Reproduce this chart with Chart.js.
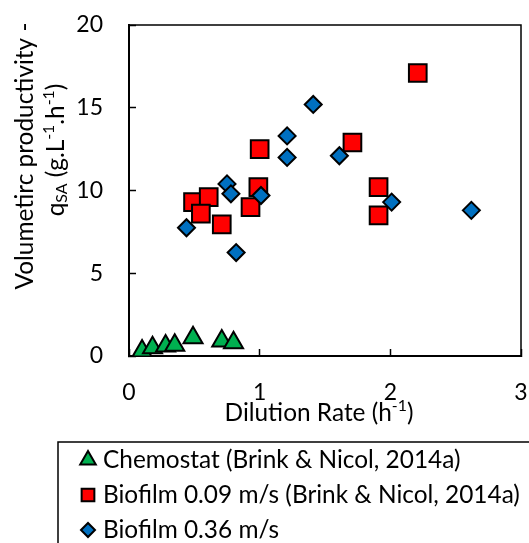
<!DOCTYPE html>
<html>
<head>
<meta charset="utf-8">
<script src="https://cdn.jsdelivr.net/npm/chart.js@4.4.1/dist/chart.umd.min.js"></script>
<style>
  html, body { margin: 0; padding: 0; background: #fff; }
  #wrap { width: 529px; height: 543px; position: relative; }
</style>
</head>
<body>
<div id="wrap"><canvas id="chart"></canvas></div>
<script>
// Data
const seriesNames = [
  'Chemostat (Brink & Nicol, 2014a)',
  'Biofilm 0.09 m/s (Brink & Nicol, 2014a)',
  'Biofilm 0.36 m/s'
];
const chemostatX = [0.10, 0.18, 0.28, 0.35, 0.49, 0.71, 0.80];
const chemostatY = [0.30, 0.50, 0.60, 0.65, 1.10, 0.90, 0.80];
const biofilm09X = [0.49, 0.61, 0.55, 0.71, 1.00, 0.99, 0.93, 1.71, 1.91, 1.91, 2.21];
const biofilm09Y = [9.3, 9.6, 8.6, 7.95, 12.5, 10.2, 9.0, 12.9, 10.2, 8.5, 17.1];
const biofilm36X = [0.44, 0.75, 0.78, 0.82, 1.01, 1.21, 1.21, 1.41, 1.61, 2.01, 2.62];
const biofilm36Y = [7.75, 10.4, 9.8, 6.25, 9.7, 13.3, 12.0, 15.2, 12.1, 9.3, 8.8];
const xTickValues = [0, 1, 2, 3];
const yTickValues = [0, 5, 10, 15, 20];

const FONT = 'Lato';
const TITLE_SIZE = 24.4;
const TICK_SIZE = 23;

const toPoints = (xs, ys) => xs.map((x, i) => ({x: x, y: ys[i]}));

// draws text made of normal / sub / sup parts, centred on x
function drawRich(ctx, parts, x, y, size) {
  const fontOf = p => `${(p.sub || p.sup) ? size * 0.65 : size}px ${FONT}`;
  let total = 0;
  parts.forEach(p => { ctx.font = fontOf(p); total += ctx.measureText(p.t).width; });
  let cx = x - total / 2;
  ctx.textAlign = 'left';
  ctx.textBaseline = 'middle';
  parts.forEach(p => {
    ctx.font = fontOf(p);
    const dy = p.sub ? size * 0.25 : p.sup ? -size * 0.3 : 0;
    ctx.fillText(p.t, cx, y + dy);
    cx += ctx.measureText(p.t).width;
  });
}

const styles = [
  {pointStyle: 'triangle', color: '#00B050', radius: 11, legendRadius: 9},
  {pointStyle: 'rect', color: '#FF0000', radius: 12.5, legendRadius: 9},
  {pointStyle: 'rectRot', color: '#0070C0', radius: 8.5, legendRadius: 7}
];

// axis paddings from the tick labels would shrink the plot area
function fixBox(s) {
  s.paddingLeft = 0; s.paddingRight = 0; s.paddingTop = 0; s.paddingBottom = 0;
}

const framePlugin = {
  id: 'frame',
  beforeDatasetsDraw(chart) {
    const {ctx, chartArea} = chart;
    ctx.save();
    ctx.strokeStyle = '#000';
    ctx.lineWidth = 1.5;
    ctx.strokeRect(chartArea.left, chartArea.top, chartArea.right - chartArea.left, chartArea.bottom - chartArea.top);
    ctx.restore();
  },
  afterDraw(chart) {
    const ctx = chart.ctx;
    ctx.save();
    ctx.fillStyle = '#000';

    // x axis title
    drawRich(ctx, [{t: 'Dilution Rate (h'}, {t: '-1', sup: true}, {t: ')'}], 319, 413, TITLE_SIZE);

    // y axis title, two lines rotated
    ctx.save();
    ctx.translate(25, 156);
    ctx.rotate(-Math.PI / 2);
    drawRich(ctx, [{t: 'Volumetirc productivity -'}], 0, 0, TITLE_SIZE);
    ctx.restore();
    ctx.save();
    ctx.translate(56, 150);
    ctx.rotate(-Math.PI / 2);
    drawRich(ctx, [{t: 'q'}, {t: 'SA', sub: true}, {t: ' (g.L'}, {t: '-1', sup: true},
      {t: '.h'}, {t: '-1', sup: true}, {t: ')'}], 0, 0, TITLE_SIZE);
    ctx.restore();

    // legend box
    ctx.strokeStyle = '#000';
    ctx.lineWidth = 1.5;
    ctx.strokeRect(58, 442, 600, 300);
    const rowY = [460, 495, 530];
    seriesNames.forEach((name, i) => {
      const s = styles[i];
      ctx.fillStyle = s.color;
      ctx.strokeStyle = '#000';
      ctx.lineWidth = 2;
      Chart.helpers.drawPoint(ctx, {pointStyle: s.pointStyle, radius: s.legendRadius, rotation: 0, borderWidth: 2}, 88, rowY[i]);
      ctx.fillStyle = '#000';
      ctx.font = `${TITLE_SIZE}px ${FONT}`;
      ctx.textAlign = 'left';
      ctx.textBaseline = 'middle';
      ctx.fillText(name, 103, rowY[i]);
    });
    ctx.restore();
  }
};

const datasetFor = (i, data, order) => ({
  label: seriesNames[i],
  data: data,
  order: order,
  pointStyle: styles[i].pointStyle,
  pointRadius: styles[i].radius,
  pointBackgroundColor: styles[i].color,
  pointBorderColor: '#000',
  pointBorderWidth: 2,
  showLine: false
});

new Chart(document.getElementById('chart'), {
  type: 'scatter',
  data: {
    datasets: [
      datasetFor(0, toPoints(chemostatX, chemostatY), 3),
      datasetFor(1, toPoints(biofilm09X, biofilm09Y), 2),
      datasetFor(2, toPoints(biofilm36X, biofilm36Y), 1)
    ]
  },
  options: {
    responsive: true,
    maintainAspectRatio: false,
    animation: false,
    events: [],
    layout: {autoPadding: false, padding: {top: 25, right: 8, left: 0, bottom: 0}},
    plugins: {legend: {display: false}, tooltip: {enabled: false}},
    scales: {
      x: {
        type: 'linear', min: 0, max: 3,
        afterBuildTicks: s => { s.ticks = xTickValues.map(v => ({value: v})); },
        afterFit: s => { s.height = 543 - 356; fixBox(s); },
        grid: {drawOnChartArea: false, drawTicks: true, tickLength: -7, tickColor: '#000', tickWidth: 1.5},
        border: {display: true, color: '#000', width: 2},
        ticks: {color: '#000', font: {family: FONT, size: TICK_SIZE}, padding: 30, maxRotation: 0}
      },
      y: {
        type: 'linear', min: 0, max: 20,
        afterBuildTicks: s => { s.ticks = yTickValues.map(v => ({value: v})); },
        afterFit: s => { s.width = 129; fixBox(s); },
        grid: {drawOnChartArea: false, drawTicks: true, tickLength: -7, tickColor: '#000', tickWidth: 1.5},
        border: {display: true, color: '#000', width: 2},
        ticks: {color: '#000', font: {family: FONT, size: TICK_SIZE}, padding: 33}
      }
    }
  },
  plugins: [framePlugin]
});
</script>
</body>
</html>
